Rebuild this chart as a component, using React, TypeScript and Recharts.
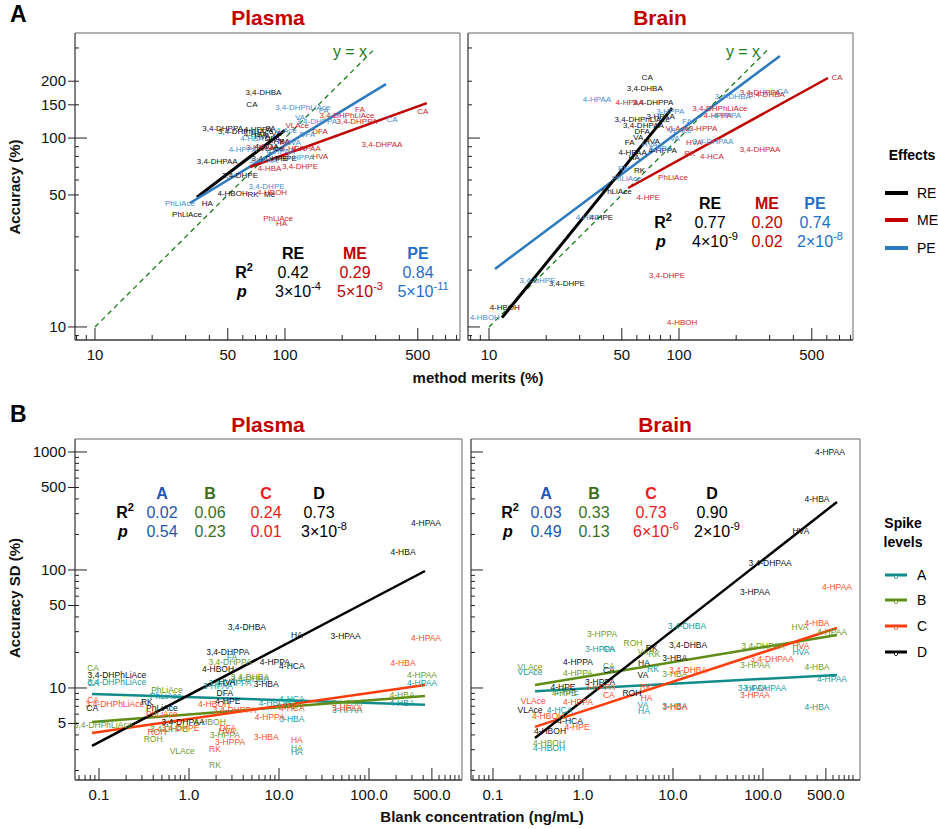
import React from "react";
import { ScatterChart, Scatter, XAxis, YAxis, ReferenceLine, ReferenceArea } from "recharts";

const FONT = "'Liberation Sans', Arial, Helvetica, sans-serif";

type Pt = [string, number, number];

// ---------- A: accuracy (%) vs method merits (%) ----------
const plasmaRE: Pt[] = [
  ["3,4-DHBA", 77, 175], ["CA", 67, 150], ["3,4-DHPPA", 47, 113], ["3,4-DHPhLiAce", 62, 108],
  ["4-HPPA", 72, 111], ["FA", 84, 113], ["VA", 90, 106], ["HVA", 76, 102], ["DFA", 86, 100],
  ["4-HBA", 70, 104], ["3-HBA", 92, 96], ["4-HCA", 80, 90], ["VLAce", 85, 88], ["4-HPE", 100, 78],
  ["3,4-DHPE", 83, 78], ["3,4-DHPAA", 44, 75.5], ["3,4-DHPE", 58, 63.7], ["4-HBOH", 53, 51],
  ["RK", 68, 50.5], ["Me", 83, 50], ["HA", 39, 45], ["PhLiAce", 30.5, 39.6],
];
const plasmaME: Pt[] = [
  ["CA", 532, 139], ["FA", 248, 141], ["3,4-DHPhLiAce", 212, 132], ["3,4-DHPPA", 239, 123],
  ["VLAce", 116, 117], ["DFA", 153, 108], ["3,4-DHPAA", 324, 92], ["HVA", 153, 80],
  ["3-HPAA", 74, 89.6], ["4-HPAA", 130, 88], ["RK", 100, 95], ["4-HCA", 110, 88],
  ["3,4-DHPE", 120, 70.3], ["4-HBA", 83, 69], ["4-HBOH", 85.5, 51.8], ["PhLiAce", 92, 37.3], ["HA", 96, 35.5],
];
const plasmaPE: Pt[] = [
  ["3,4-DHPhLiAce", 124, 146], ["VA", 120, 129], ["3,4-DHPPA", 147, 123], ["CA", 366, 126],
  ["FA", 160, 140], ["4-HBA", 67, 99], ["4-HPPA", 60, 87.5], ["3-HPAA", 77, 76.5],
  ["3,4-DHPE", 80, 55.7], ["PhLiAce", 28, 45.3], ["DFA", 131, 104], ["3-HPPA", 120, 79],
  ["HVA", 110, 95], ["VLAce", 100, 110], ["4-HPAA", 95, 85],
];
const brainRE: Pt[] = [
  ["CA", 68, 208], ["3,4-DHBA", 66, 182], ["3,4-DHPPA", 73, 155], ["3,4-DHPhLiAce", 64, 126],
  ["3,4-DHPAA", 65, 116], ["DFA", 64, 108], ["VA", 61, 101], ["FA", 55, 95], ["HVA", 72, 96],
  ["4-HPAA", 57, 84], ["HA", 58, 79], ["4-HPPA", 82, 86], ["3-HPAA", 80, 130], ["RK", 62, 67],
  ["PhLiAce", 47, 52], ["4-HPE", 39, 38], ["3,4-DHPE", 25.7, 17], ["4-HBOH", 12.1, 12.6],
];
const brainME: Pt[] = [
  ["CA", 679, 208], ["3,4-DHPPA", 267, 175], ["3,4-DHBA", 290, 170], ["4-HPAA", 55, 155],
  ["3,4-DHPhLiAce", 164, 144], ["4-HPPA", 160, 132], ["VLAce", 98, 113], ["3-HPPA", 134, 113],
  ["HVA", 120, 95], ["3,4-DHPAA", 267, 86.5], ["4-HCA", 149, 80], ["RK", 114, 83],
  ["PhLiAce", 93, 62], ["4-HPE", 69, 48.7], ["3,4-DHPE", 86.5, 18.8], ["4-HBOH", 104, 10.5],
];
const brainPE: Pt[] = [
  ["4-HPAA", 37, 161], ["3,4-DHBA", 192, 165], ["CA", 352, 177], ["3-HPPA", 90, 139],
  ["4-HPPA", 179, 132], ["FA", 110, 122], ["VLAce", 101, 110], ["VA", 95, 100],
  ["3,4-DHPAA", 151, 96], ["HVA", 70, 92], ["4-HBA", 80, 88], ["RK", 51, 69], ["PhLiAce", 53, 61],
  ["4-HPE", 33, 38], ["3,4-DHPE", 18, 17.7], ["4-HBOH", 9.5, 11.2],
];

// ---------- B: accuracy SD (%) vs blank concentration (ng/mL) ----------
const plasmaA: Pt[] = [
  ["4-HPAA", 388, 11], ["4-HBA", 233, 7.5], ["CA", 0.086, 11], ["3,4-DHPhLiAce", 0.158, 11.2],
  ["FA", 3.0, 18.3], ["3,4-DHBA", 4.76, 11.8], ["3,4-DHPPA", 2.86, 11], ["3-HPAA", 2.1, 10.4],
  ["PhLiAce", 0.55, 8.5], ["4-HCA", 13.9, 8.0], ["4-HBOH", 9.0, 7.5], ["3-HPAA", 57, 6.5],
  ["3-HBA", 13.9, 5.46], ["HA", 15.8, 2.87],
];
const plasmaB: Pt[] = [
  ["4-HPAA", 388, 12.9], ["4-HBA", 233, 8.7], ["CA", 0.086, 14.8], ["PhLiAce", 0.57, 9.6],
  ["3,4-DHPPA", 2.86, 16.6], ["3,4-DHBA", 4.76, 12.4], ["3-HPAA", 57, 7.5], ["4-HCA", 13, 7.0],
  ["3,4-DHPhLiAce", 0.111, 4.86], ["4-HBOH", 1.7, 5.15], ["3,4-DHPE", 0.6, 4.5],
  ["3-HPPA", 2.5, 3.98], ["ROH", 0.4, 3.7], ["VLAce", 0.84, 2.92], ["RK", 1.94, 2.22], ["HA", 15.8, 3.1],
];
const plasmaC: Pt[] = [
  ["4-HPAA", 430, 26.5], ["4-HBA", 239, 16.3], ["CA", 0.086, 7.9], ["3,4-DHPhLiAce", 0.15, 7.3],
  ["4-HBOH", 1.9, 7.3], ["3,4-DHPPA", 3.2, 6.5], ["4-HPPA", 7.9, 5.7], ["4-HCA", 13.9, 6.8],
  ["3-HPAA", 57, 6.8], ["PhLiAce", 0.5, 6.0], ["3,4-DHPE", 0.8, 4.6], ["DFA", 2.7, 4.6],
  ["HVA", 2.64, 4.3], ["3-HPPA", 2.86, 3.5], ["3-HBA", 7.2, 3.85], ["HA", 15.8, 3.6],
  ["RK", 1.94, 3.04], ["ROH", 0.44, 4.24],
];
const plasmaD: Pt[] = [
  ["4-HPAA", 430, 250], ["4-HBA", 239, 142], ["3,4-DHBA", 4.4, 33], ["HA", 15.8, 28],
  ["3-HPAA", 55, 27.6], ["3,4-DHPPA", 2.7, 20.2], ["4-HBOH", 2.1, 14.5], ["4-HPPA", 9.0, 16.6],
  ["4-HCA", 13.9, 15.4], ["HVA", 2.64, 11.2], ["3-HBA", 7.2, 10.8], ["DFA", 2.5, 9.1],
  ["4-HPE", 2.7, 7.7], ["3,4-DHPhLiAce", 0.158, 12.9], ["CA", 0.084, 6.8], ["RK", 0.34, 7.6],
  ["PhLiAce", 0.5, 6.8], ["3,4-DHPAA", 0.86, 5.15],
];
const brainA: Pt[] = [
  ["3,4-DHBA", 14.3, 33.5], ["3-HPPA", 1.55, 21.4], ["CA", 1.94, 21.2], ["RK", 6.0, 14.5],
  ["VLAce", 0.258, 13.7], ["4-HPE", 0.66, 9.3], ["4-HCA", 0.55, 6.5], ["VA", 4.64, 7.2],
  ["HA", 4.76, 6.4], ["3-HBA", 10.5, 7.1], ["4-HBOH", 0.42, 3.1], ["3-HPAA", 77, 10],
  ["3,4-DHPAA", 105, 9.9], ["HVA", 264, 20.2], ["4-HPAA", 585, 11.9], ["4-HBA", 398, 6.9],
];
const brainB: Pt[] = [
  ["3-HPPA", 1.63, 28.7], ["ROH", 3.6, 24], ["VA", 4.64, 20], ["RK", 6.2, 19.5],
  ["VLAce", 0.258, 15.1], ["4-HPPA", 0.88, 13.4], ["CA", 1.94, 15.5], ["3-HBA", 10.5, 13.2],
  ["HVA", 258, 32.9], ["4-HPAA", 585, 29.8], ["3,4-DHPAA", 100, 22.7], ["3-HPAA", 81.5, 15.7],
  ["4-HBA", 398, 15.1], ["4-HPE", 0.62, 9.1], ["4-HBOH", 0.42, 3.42],
];
const brainC: Pt[] = [
  ["4-HPAA", 664, 71.8], ["4-HBA", 398, 35.6], ["HVA", 264, 22.7], ["3,4-DHPAA", 126, 17.6],
  ["3-HPAA", 81.5, 8.7], ["3,4-DHBA", 14.7, 14.2], ["3-HBA", 10.5, 6.9], ["HA", 5.1, 8.2],
  ["CA", 1.94, 8.7], ["RK", 5.0, 10.2], ["3-HPPA", 1.55, 10.2], ["4-HPPA", 0.88, 7.6],
  ["VLAce", 0.28, 7.75], ["4-HBOH", 0.41, 5.8], ["4-HPE", 0.86, 4.67],
];
const brainD: Pt[] = [
  ["4-HPAA", 555, 1000], ["4-HBA", 398, 400], ["HVA", 264, 214], ["3,4-DHPAA", 120, 115],
  ["3-HPAA", 81.5, 65], ["3,4-DHBA", 14.7, 23.1], ["RK", 5.8, 21.8], ["3-HBA", 10.5, 18],
  ["HA", 4.76, 16.3], ["VA", 4.64, 12.9], ["4-HPPA", 0.88, 16.6], ["CA", 1.94, 14.2],
  ["3-HPPA", 1.55, 11.2], ["4-HPE", 0.6, 10.2], ["ROH", 3.5, 9.1], ["VLAce", 0.258, 6.5],
  ["4-HCA", 0.72, 5.25], ["4-HBOH", 0.43, 4.32],
];

// regression lines (start x, start y, end x, end y)
type Seg = [number, number, number, number];
const fitPlasmaRE: Seg = [34.4, 48.7, 100, 110];
const fitPlasmaME: Seg = [65.5, 70.3, 558, 153];
const fitPlasmaPE: Seg = [31.6, 45.3, 340, 193];
const fitBrainRE: Seg = [11.7, 11.2, 92, 144];
const fitBrainME: Seg = [54, 54.4, 608, 208];
const fitBrainPE: Seg = [10.75, 20.3, 340, 272];
const identity: Seg = [10, 10, 295, 295];
const fitPlasmaA: Seg = [0.0836, 8.9, 419, 7.2];
const fitPlasmaB: Seg = [0.0836, 5.15, 419, 8.55];
const fitPlasmaC: Seg = [0.0836, 4.16, 419, 10.6];
const fitPlasmaD: Seg = [0.0836, 3.23, 419, 98];
const fitBrainA: Seg = [0.293, 9.4, 664, 12.9];
const fitBrainB: Seg = [0.293, 10.6, 664, 28.1];
const fitBrainC: Seg = [0.293, 4.68, 664, 32.2];
const fitBrainD: Seg = [0.293, 3.77, 664, 377];

// stats rows: [group, R2, mantissa, exponent]
const statsPlasmaA = [["RE", "0.42", "3", "-4"], ["ME", "0.29", "5", "-3"], ["PE", "0.84", "5", "-11"]];
const statsBrainA = [["RE", "0.77", "4", "-9"], ["ME", "0.20", "0.02", ""], ["PE", "0.74", "2", "-8"]];
const statsPlasmaB = [["A", "0.02", "0.54", ""], ["B", "0.06", "0.23", ""], ["C", "0.24", "0.01", ""], ["D", "0.73", "3", "-8"]];
const statsBrainB = [["A", "0.03", "0.49", ""], ["B", "0.33", "0.13", ""], ["C", "0.73", "6", "-6"], ["D", "0.90", "2", "-9"]];

// axes
const meritTicks = [8, 9, 10, 20, 30, 40, 50, 60, 70, 80, 90, 100, 200, 300, 400, 500, 600, 700, 800];
const meritLabels: Record<string, string> = { "10": "10", "50": "50", "100": "100", "500": "500" };
const accTicks = [9, 10, 20, 30, 40, 50, 60, 70, 80, 90, 100, 150, 200, 300];
const accLabels: Record<string, string> = { "10": "10", "50": "50", "100": "100", "150": "150", "200": "200" };
const blankTicks = [0.06, 0.07, 0.08, 0.09, 0.1, 0.2, 0.3, 0.4, 0.5, 0.6, 0.7, 0.8, 0.9, 1, 2, 3, 4, 5, 6, 7, 8, 9,
  10, 20, 30, 40, 50, 60, 70, 80, 90, 100, 200, 300, 400, 500, 600, 700, 800, 900, 1000];
const blankLabels: Record<string, string> = { "0.1": "0.1", "1": "1.0", "10": "10.0", "100": "100.0", "500": "500.0" };
const sdTicks = [2, 3, 4, 5, 6, 7, 8, 9, 10, 20, 30, 40, 50, 60, 70, 80, 90, 100, 200, 300, 400, 500, 600, 700, 800, 900, 1000];
const sdLabels: Record<string, string> = { "5": "5", "10": "10", "50": "50", "100": "100", "500": "500", "1000": "1000" };

const C = {
  RE: "#000000", ME: "#c00000", PE: "#2e7abf",
  reTxt: "#111111", meTxt: "#c8282d", peTxt: "#4a8fd0",
  A: "#138b8b", B: "#5f8c14", Cc: "#ff3d0a", D: "#000000",
  aTxt: "#169a9a", bTxt: "#6e9a22", cTxt: "#ff4d1f",
};
const statColors: Record<string, string> = {
  RE: "#000000", ME: "#c00000", PE: "#1f6fc8", A: "#1f56b0", B: "#38701c", C: "#e82020", D: "#000000",
};

type Group = { color: string; points: Pt[] };
type Fit = { color: string; width: number; seg: Seg; dash?: string };

function Panel(props: {
  box: [number, number, number, number];
  xDomain: [number, number];
  yDomain: [number, number];
  xTicks: number[];
  yTicks: number[];
  xLabels: Record<string, string>;
  yLabels: Record<string, string> | null;
  xMajor: number[];
  yMajor: number[];
  groups: Group[];
  fits: Fit[];
  fontSize: number;
}) {
  const [pl, pt, pr, pb] = props.box;
  const ML = 50, MT = 10, MR = 10, MB = 5, XH = 30, YW = 40;
  const W = pr - pl + ML + MR;
  const H = pb - pt + MT + XH + MB;

  const XTick = (p: any) => {
    const v = p.payload.value;
    const major = props.xMajor.includes(v);
    const lbl = props.xLabels[String(v)];
    return (
      <g>
        <line x1={p.x} x2={p.x} y1={p.y} y2={p.y - (major ? 12 : 5)} stroke="#222" strokeWidth={1} />
        {lbl && (
          <text x={p.x} y={p.y + 20} textAnchor="middle" fontSize={15} fontFamily={FONT} fill="#111">
            {lbl}
          </text>
        )}
      </g>
    );
  };
  const YTick = (p: any) => {
    const v = p.payload.value;
    const major = props.yMajor.includes(v);
    const lbl = props.yLabels ? props.yLabels[String(v)] : undefined;
    return (
      <g>
        <line x1={p.x} x2={p.x + (major ? 12 : 4)} y1={p.y} y2={p.y} stroke="#222" strokeWidth={1} />
        {lbl && <line x1={p.x - 7} x2={p.x} y1={p.y} y2={p.y} stroke="#222" strokeWidth={1} />}
        {lbl && (
          <text x={p.x - 9} y={p.y + 5} textAnchor="end" fontSize={15} fontFamily={FONT} fill="#111">
            {lbl}
          </text>
        )}
      </g>
    );
  };

  return (
    <div style={{ position: "absolute", left: pl - ML, top: pt - MT }}>
      <ScatterChart width={W} height={H} margin={{ top: MT, right: MR, bottom: MB, left: ML - YW }}>
        <XAxis
          type="number"
          dataKey="x"
          scale="log"
          domain={props.xDomain}
          ticks={props.xTicks}
          interval={0}
          tickSize={0}
          tickMargin={0}
          tickLine={false}
          axisLine={{ stroke: "#222" }}
          height={XH}
          tick={XTick}
        />
        <YAxis
          type="number"
          dataKey="y"
          scale="log"
          domain={props.yDomain}
          ticks={props.yTicks}
          interval={0}
          tickSize={0}
          tickMargin={0}
          tickLine={false}
          axisLine={{ stroke: "#555" }}
          width={YW}
          tick={YTick}
        />
        <ReferenceArea
          x1={props.xDomain[0]}
          x2={props.xDomain[1]}
          y1={props.yDomain[0]}
          y2={props.yDomain[1]}
          fill="none"
          fillOpacity={0}
          stroke="#666"
          strokeWidth={1}
          ifOverflow="visible"
        />
        {props.groups.map((g, i) => (
          <Scatter
            key={i}
            data={g.points.map(([name, x, y]) => ({ name, x, y }))}
            isAnimationActive={false}
            shape={(s: any) => (
              <text
                x={s.cx}
                y={s.cy}
                textAnchor="middle"
                dominantBaseline="central"
                fontSize={props.fontSize}
                fontFamily={FONT}
                fill={g.color}
              >
                {s.payload.name}
              </text>
            )}
          />
        ))}
        {props.fits.map((f, i) => (
          <ReferenceLine
            key={"f" + i}
            segment={[{ x: f.seg[0], y: f.seg[1] }, { x: f.seg[2], y: f.seg[3] }]}
            stroke={f.color}
            strokeWidth={f.width}
            strokeDasharray={f.dash}
            ifOverflow="visible"
          />
        ))}
      </ScatterChart>
    </div>
  );
}

function Stats(props: { rows: string[][]; cols: number[]; labelX: number; y0: number }) {
  const { rows, cols, labelX, y0 } = props;
  return (
    <g fontFamily={FONT} fontSize={16}>
      <text x={labelX} y={y0 + 19} textAnchor="middle" fontWeight="bold" fill="#000">
        R<tspan fontSize={11} dy={-7}>2</tspan>
      </text>
      <text x={labelX - 2} y={y0 + 38} textAnchor="middle" fontWeight="bold" fontStyle="italic" fill="#000">
        p
      </text>
      {rows.map(([k, r2, m, e], i) => (
        <g key={k} fill={statColors[k]}>
          <text x={cols[i]} y={y0} textAnchor="middle" fontWeight="bold">{k}</text>
          <text x={cols[i]} y={y0 + 19} textAnchor="middle">{r2}</text>
          {e ? (
            <text x={cols[i] + 5} y={y0 + 38} textAnchor="middle">
              {m}×10<tspan fontSize={11} dy={-7}>{e}</tspan>
            </text>
          ) : (
            <text x={cols[i]} y={y0 + 38} textAnchor="middle">{m}</text>
          )}
        </g>
      ))}
    </g>
  );
}

function Overlay() {
  const effects: [string, string, number][] = [["RE", C.RE, 193], ["ME", C.ME, 220], ["PE", C.PE, 248]];
  const spikes: [string, string, number][] = [["A", C.A, 575], ["B", C.B, 600], ["C", C.Cc, 626], ["D", C.D, 652]];
  return (
    <svg
      width={938}
      height={829}
      style={{ position: "absolute", left: 0, top: 0, pointerEvents: "none" }}
      fontFamily={FONT}
    >
      <text x={10} y={22} fontSize={23} fontWeight="bold">A</text>
      <text x={10} y={422} fontSize={23} fontWeight="bold">B</text>
      <g fill="#c00000" fontSize={21} fontWeight="bold" textAnchor="middle">
        <text x={268} y={25}>Plasma</text>
        <text x={660} y={25}>Brain</text>
        <text x={268} y={432}>Plasma</text>
        <text x={665} y={432}>Brain</text>
      </g>
      <g fontSize={15} fontWeight="bold" textAnchor="middle" fill="#111">
        <text transform="translate(14,187) rotate(-90)" dominantBaseline="central">Accuracy (%)</text>
        <text transform="translate(14,598) rotate(-90)" dominantBaseline="central">Accuracy SD (%)</text>
        <text x={478} y={383}>method merits (%)</text>
        <text x={482} y={822}>Blank concentration (ng/mL)</text>
      </g>
      <g fill="#1f7a1f" fontSize={16} textAnchor="middle">
        <text x={350} y={57}>y = x</text>
        <text x={743} y={57}>y = x</text>
      </g>
      <Stats rows={statsPlasmaA} cols={[293, 355, 418]} labelX={244} y0={259} />
      <Stats rows={statsBrainA} cols={[710, 767, 815]} labelX={663} y0={209} />
      <Stats rows={statsPlasmaB} cols={[162, 210, 266, 319]} labelX={125} y0={499} />
      <Stats rows={statsBrainB} cols={[546, 594, 651, 712]} labelX={510} y0={499} />
      <text x={912} y={160} fontSize={14} fontWeight="bold" textAnchor="middle">Effects</text>
      {effects.map(([k, col, y]) => (
        <g key={k}>
          <line x1={885} x2={908} y1={y} y2={y} stroke={col} strokeWidth={4} />
          <text x={917} y={y + 5} fontSize={14}>{k}</text>
        </g>
      ))}
      <text x={903} y={528} fontSize={14} fontWeight="bold" textAnchor="middle">Spike</text>
      <text x={903} y={547} fontSize={14} fontWeight="bold" textAnchor="middle">levels</text>
      {spikes.map(([k, col, y]) => (
        <g key={k}>
          <line x1={885} x2={907} y1={y} y2={y} stroke={col} strokeWidth={3} />
          <circle cx={896} cy={y + 2} r={1.6} fill="#fff" stroke={col} strokeWidth={0.8} />
          <text x={917} y={y + 5} fontSize={14}>{k}</text>
        </g>
      ))}
    </svg>
  );
}

export default function App() {
  return (
    <div style={{ position: "absolute", left: 0, top: 0, width: 938, height: 829, background: "#fff", fontFamily: FONT }}>
      <Panel
        box={[75, 33, 460, 340]}
        xDomain={[7.85, 834]}
        yDomain={[8.53, 360]}
        xTicks={meritTicks}
        yTicks={accTicks}
        xLabels={meritLabels}
        yLabels={accLabels}
        xMajor={[10, 50, 100, 500]}
        yMajor={[10, 100]}
        fontSize={8}
        groups={[
          { color: C.reTxt, points: plasmaRE },
          { color: C.meTxt, points: plasmaME },
          { color: C.peTxt, points: plasmaPE },
        ]}
        fits={[
          { color: "#1a7a1a", width: 1.3, seg: identity, dash: "5 4" },
          { color: C.RE, width: 3, seg: fitPlasmaRE },
          { color: C.PE, width: 2.5, seg: fitPlasmaPE },
          { color: C.ME, width: 2.5, seg: fitPlasmaME },
        ]}
      />
      <Panel
        box={[468, 33, 853, 340]}
        xDomain={[7.75, 824]}
        yDomain={[8.53, 360]}
        xTicks={meritTicks}
        yTicks={accTicks}
        xLabels={meritLabels}
        yLabels={null}
        xMajor={[10, 50, 100, 500]}
        yMajor={[10, 100]}
        fontSize={8}
        groups={[
          { color: C.reTxt, points: brainRE },
          { color: C.meTxt, points: brainME },
          { color: C.peTxt, points: brainPE },
        ]}
        fits={[
          { color: "#1a7a1a", width: 1.3, seg: identity, dash: "5 4" },
          { color: C.PE, width: 2.5, seg: fitBrainPE },
          { color: C.RE, width: 3, seg: fitBrainRE },
          { color: C.ME, width: 2.5, seg: fitBrainME },
        ]}
      />
      <Panel
        box={[75, 439, 462, 780]}
        xDomain={[0.0541, 1080]}
        yDomain={[1.66, 1288]}
        xTicks={blankTicks}
        yTicks={sdTicks}
        xLabels={blankLabels}
        yLabels={sdLabels}
        xMajor={[0.1, 1, 10, 100, 500]}
        yMajor={[10, 100, 1000]}
        fontSize={8.5}
        groups={[
          { color: C.aTxt, points: plasmaA },
          { color: C.bTxt, points: plasmaB },
          { color: C.cTxt, points: plasmaC },
          { color: C.reTxt, points: plasmaD },
        ]}
        fits={[
          { color: C.A, width: 2.5, seg: fitPlasmaA },
          { color: C.B, width: 2.5, seg: fitPlasmaB },
          { color: C.Cc, width: 2.5, seg: fitPlasmaC },
          { color: C.D, width: 2.5, seg: fitPlasmaD },
        ]}
      />
      <Panel
        box={[471, 439, 860, 780]}
        xDomain={[0.057, 1197]}
        yDomain={[1.66, 1288]}
        xTicks={blankTicks}
        yTicks={sdTicks}
        xLabels={blankLabels}
        yLabels={null}
        xMajor={[0.1, 1, 10, 100, 500]}
        yMajor={[10, 100, 1000]}
        fontSize={8.5}
        groups={[
          { color: C.aTxt, points: brainA },
          { color: C.bTxt, points: brainB },
          { color: C.cTxt, points: brainC },
          { color: C.reTxt, points: brainD },
        ]}
        fits={[
          { color: C.A, width: 2.5, seg: fitBrainA },
          { color: C.B, width: 2.5, seg: fitBrainB },
          { color: C.Cc, width: 2.5, seg: fitBrainC },
          { color: C.D, width: 2.5, seg: fitBrainD },
        ]}
      />
      <Overlay />
    </div>
  );
}
